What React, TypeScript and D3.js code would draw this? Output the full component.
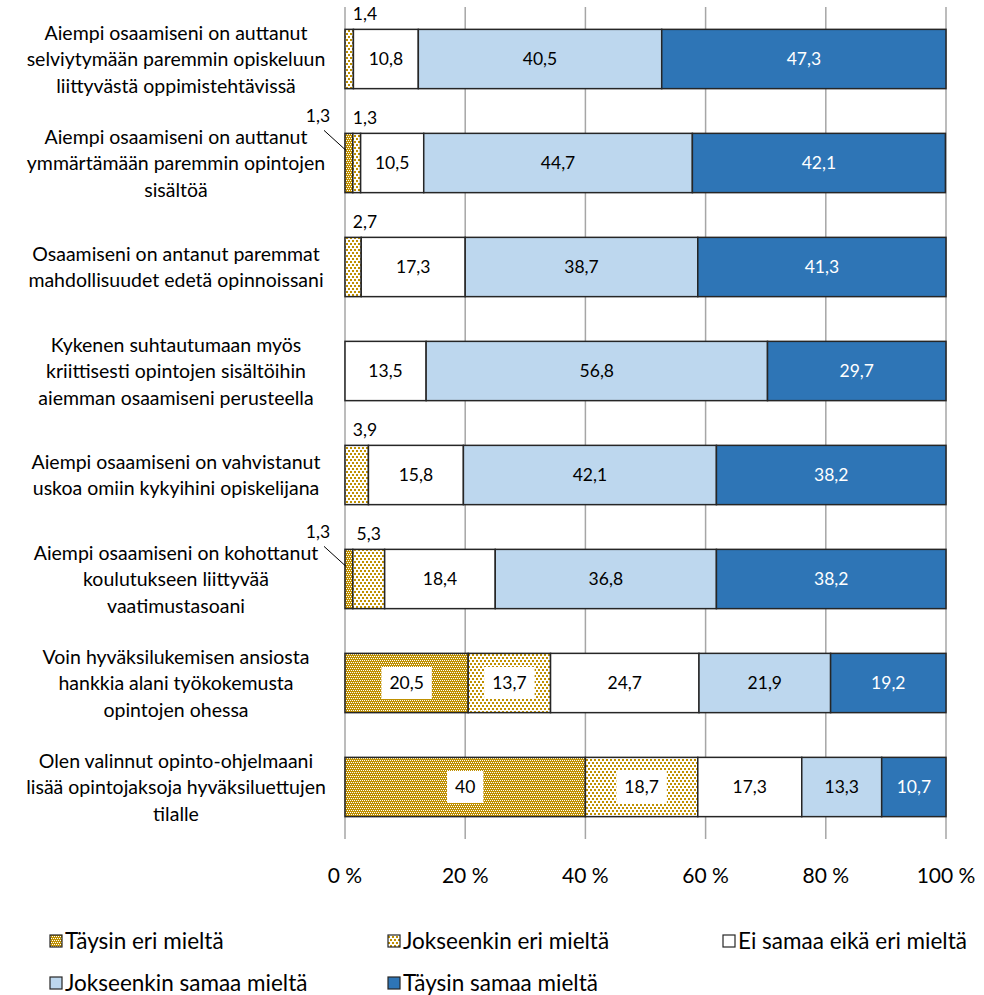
import * as d3 from "d3";
import React, { useEffect, useRef } from "react";

const width = 984;
const height = 995;

const categories = [
    ["Aiempi osaamiseni on auttanut", "selviytymään paremmin opiskeluun", "liittyvästä oppimistehtävissä"],
    ["Aiempi osaamiseni on auttanut", "ymmärtämään paremmin opintojen", "sisältöä"],
    ["Osaamiseni on antanut paremmat", "mahdollisuudet edetä opinnoissani"],
    ["Kykenen suhtautumaan myös", "kriittisesti opintojen sisältöihin", "aiemman osaamiseni perusteella"],
    ["Aiempi osaamiseni on vahvistanut", "uskoa omiin kykyihini opiskelijana"],
    ["Aiempi osaamiseni on kohottanut", "koulutukseen liittyvää", "vaatimustasoani"],
    ["Voin hyväksilukemisen ansiosta", "hankkia alani työkokemusta", "opintojen ohessa"],
    ["Olen valinnut opinto-ohjelmaani", "lisää opintojaksoja hyväksiluettujen", "tilalle"],
];

const seriesNames = [
    "Täysin eri mieltä",
    "Jokseenkin eri mieltä",
    "Ei samaa eikä eri mieltä",
    "Jokseenkin samaa mieltä",
    "Täysin samaa mieltä",
];

const taysinEri = [0, 1.3, 0, 0, 0, 1.3, 20.5, 40];
const jokseenkinEri = [1.4, 1.3, 2.7, 0, 3.9, 5.3, 13.7, 18.7];
const eiSamaa = [10.8, 10.5, 17.3, 13.5, 15.8, 18.4, 24.7, 17.3];
const jokseenkinSamaa = [40.5, 44.7, 38.7, 56.8, 42.1, 36.8, 21.9, 13.3];
const taysinSamaa = [47.3, 42.1, 41.3, 29.7, 38.2, 38.2, 19.2, 10.7];

const ticks = [0, 20, 40, 60, 80, 100];

const gold = "#bf9000";
const fills = ["url(#checkGold)", "url(#dotGold)", "#ffffff", "#bdd7ee", "#2e75b6"];
const textColors = ["#000", "#000", "#000", "#000", "#fff"];

const fmt = (v: number) => String(v).replace(".", ",");

const App: React.FC = () => {
    const wrapper = useRef<SVGSVGElement>(null);

    useEffect(() => {
        if (!wrapper.current) return;
        const svg = d3.select(wrapper.current);
        svg.selectAll("*").remove();
        svg.attr("width", width).attr("height", height).attr("viewBox", [0, 0, width, height]);

        const defs = svg.append("defs");
        // ruudukko-kuvio
        const check = defs.append("pattern")
            .attr("id", "checkGold")
            .attr("patternUnits", "userSpaceOnUse")
            .attr("width", 4).attr("height", 4);
        check.append("rect").attr("width", 4).attr("height", 4).attr("fill", gold);
        [[0, 0], [2, 0], [1, 2], [3, 2]].forEach(([px, py]) =>
            check.append("rect").attr("x", px).attr("y", py).attr("width", 1).attr("height", 1).attr("fill", "#fff")
        );
        // pisteet
        const dot = defs.append("pattern")
            .attr("id", "dotGold")
            .attr("patternUnits", "userSpaceOnUse")
            .attr("width", 4).attr("height", 6);
        dot.append("rect").attr("width", 4).attr("height", 6).attr("fill", "#fff");
        dot.append("rect").attr("x", 0).attr("y", 0).attr("width", 2).attr("height", 2).attr("fill", gold);
        dot.append("rect").attr("x", 2).attr("y", 3).attr("width", 2).attr("height", 2).attr("fill", gold);

        const x = d3.scaleLinear().domain([0, 100]).range([345, 946]);
        const y = d3.scaleBand<number>()
            .domain(d3.range(categories.length))
            .range([7, 839])
            .paddingInner(0.43)
            .paddingOuter(0.215);

        // gridlines
        svg.append("g")
            .selectAll("line")
            .data(ticks)
            .join("line")
            .attr("x1", (d) => x(d)).attr("x2", (d) => x(d))
            .attr("y1", 7).attr("y2", 839)
            .attr("stroke", "#a6a6a6")
            .attr("stroke-width", 1.5);

        svg.append("g")
            .selectAll("text")
            .data(ticks)
            .join("text")
            .attr("x", (d) => x(d))
            .attr("y", 883)
            .attr("text-anchor", "middle")
            .style("font-size", "21px")
            .text((d) => `${d} %`);

        const rows = [taysinEri, jokseenkinEri, eiSamaa, jokseenkinSamaa, taysinSamaa];
        const stackData = categories.map((_, i) => {
            const o: Record<string, number> = { idx: i };
            seriesNames.forEach((s, k) => (o[s] = rows[k][i]));
            return o;
        });
        const stacked = d3.stack<Record<string, number>>().keys(seriesNames)(stackData);

        // category labels
        const cat = svg.append("g");
        categories.forEach((lines, i) => {
            const cy = y(i)! + y.bandwidth() / 2;
            const t = cat.append("text")
                .attr("text-anchor", "middle")
                .style("font-size", "19.5px");
            lines.forEach((l, j) => {
                t.append("tspan")
                    .attr("x", 176)
                    .attr("y", cy + (j - (lines.length - 1) / 2) * 26.5 + 7)
                    .text(l);
            });
        });

        const bars = svg.append("g");
        stacked.forEach((layer, k) => {
            bars.append("g")
                .selectAll("rect")
                .data(layer.filter((d) => rows[k][d.data.idx] > 0))
                .join("rect")
                .attr("x", (d) => x(d[0]))
                .attr("width", (d) => x(d[1]) - x(d[0]))
                .attr("y", (d) => y(d.data.idx)!)
                .attr("height", y.bandwidth())
                .attr("fill", fills[k])
                .attr("stroke", "#262626")
                .attr("stroke-width", 1.5);
        });

        const labels = svg.append("g").style("font-size", "17.5px");
        stacked.forEach((layer, k) => {
            layer.forEach((d) => {
                const i = d.data.idx;
                const v = rows[k][i];
                if (v <= 0) return;
                const top = y(i)!;
                const cy = top + y.bandwidth() / 2;
                const mid = x((d[0] + d[1]) / 2);
                if (v < 7) {
                    if (k === 0) {
                        // leader line for the thin first segment
                        labels.append("line")
                            .attr("x1", x(0) - 21).attr("y1", top - 3)
                            .attr("x2", x(d[0]) + 1).attr("y2", top + 17)
                            .attr("stroke", "#000").attr("stroke-width", 1);
                        labels.append("text")
                            .attr("x", x(0) - 27).attr("y", top - 11)
                            .attr("text-anchor", "middle")
                            .text(fmt(v));
                    } else {
                        labels.append("text")
                            .attr("x", Math.max(mid, x(0) + 20))
                            .attr("y", top - 9)
                            .attr("text-anchor", "middle")
                            .text(fmt(v));
                    }
                    return;
                }
                const t = labels.append("text")
                    .attr("x", mid).attr("y", cy + 6)
                    .attr("text-anchor", "middle")
                    .attr("fill", textColors[k])
                    .text(fmt(v));
                if (k < 2) {
                    const bb = (t.node() as SVGTextElement).getBBox();
                    labels.insert("rect", () => t.node())
                        .attr("x", bb.x - 8).attr("y", cy - 16)
                        .attr("width", bb.width + 16).attr("height", 32)
                        .attr("fill", "#fff");
                }
            });
        });

        // legend
        const legendPos = [[50, 941], [388, 941], [723, 941], [50, 983], [388, 983]];
        const legend = svg.append("g").style("font-size", "22.5px");
        seriesNames.forEach((s, k) => {
            const [lx, ly] = legendPos[k];
            legend.append("rect")
                .attr("x", lx).attr("y", ly - 6)
                .attr("width", 12).attr("height", 12)
                .attr("fill", fills[k])
                .attr("stroke", "#262626")
                .attr("stroke-width", 1.2);
            legend.append("text")
                .attr("x", lx + 15).attr("y", ly + 8)
                .text(s);
        });
    }, []);

    return (
        <svg
            ref={wrapper}
            style={{ display: "block", position: "absolute", left: 0, top: 0, fontFamily: "Lato, 'Noto Sans', sans-serif" }}
        />
    );
};

export default App;
